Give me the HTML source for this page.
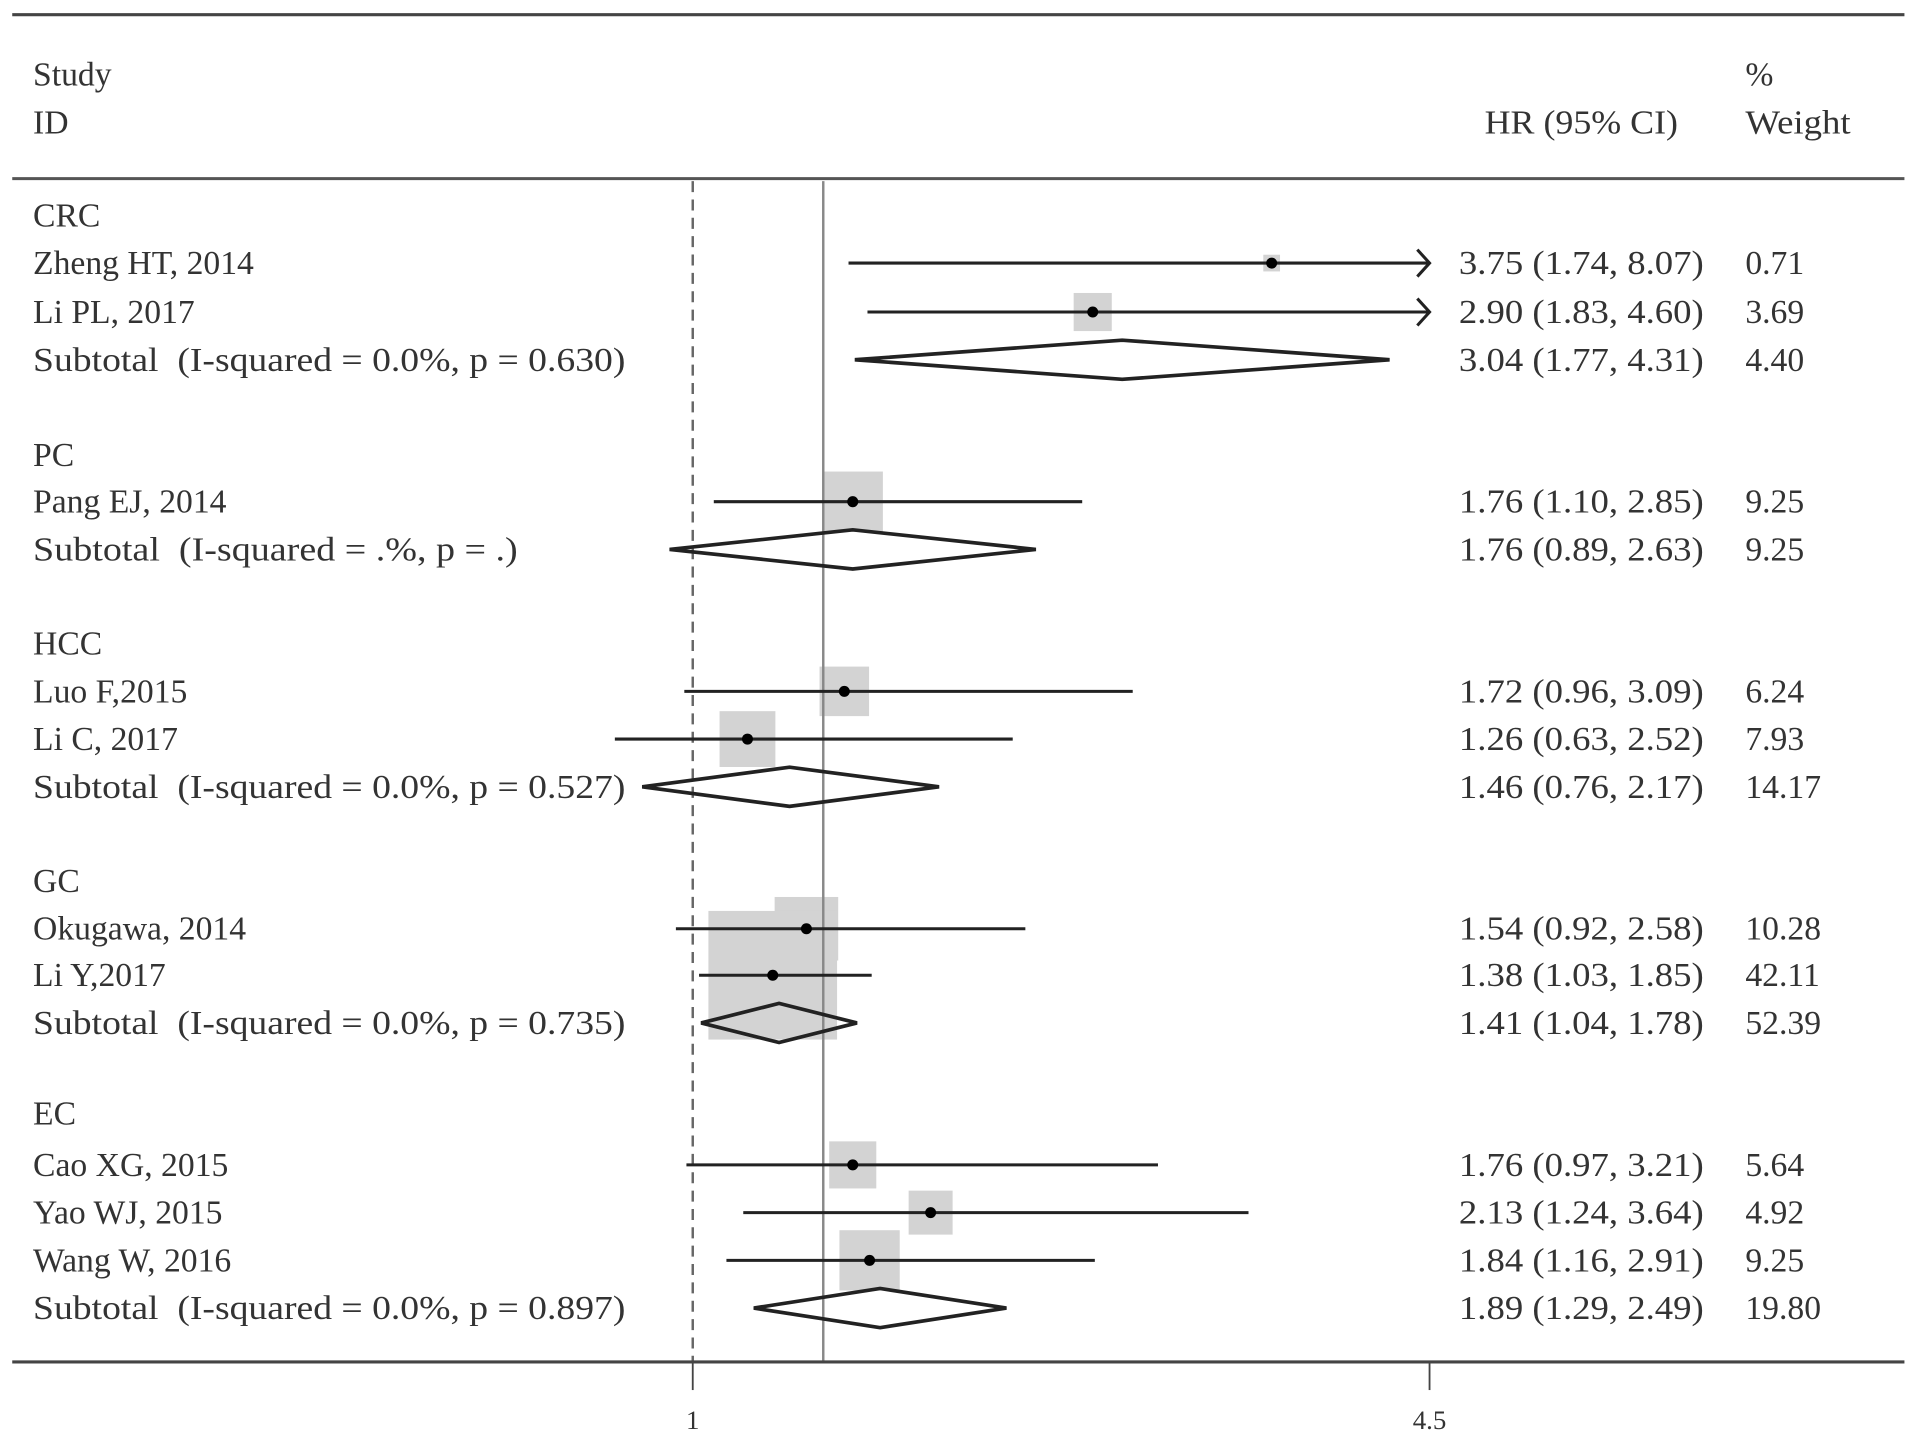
<!DOCTYPE html>
<html><head><meta charset="utf-8"><style>
html,body{margin:0;padding:0;background:#fff;}
svg{display:block;}
text{font-family:"Liberation Serif",serif;font-size:27.5px;fill:#333;white-space:pre;}
</style></head><body>
<svg width="1913" height="1439" viewBox="0 0 1563 1176" preserveAspectRatio="none" xmlns="http://www.w3.org/2000/svg">
<g id="static">
<line x1="10" y1="12" x2="1556" y2="12" stroke="#444" stroke-width="2.5"/>
<line x1="10" y1="146" x2="1556" y2="146" stroke="#555" stroke-width="2.5"/>
<text x="27" y="70">Study</text>
<text x="27" y="109">ID</text>
<text x="1213" y="109" textLength="158" lengthAdjust="spacingAndGlyphs">HR (95% CI)</text>
<text x="1426" y="70">%</text>
<text x="1426" y="109" textLength="86" lengthAdjust="spacingAndGlyphs">Weight</text>
</g>
<g id="plot"></g>
</svg>
<script>
const labels=["CRC","Zheng HT, 2014","Li PL, 2017","Subtotal  (I-squared = 0.0%, p = 0.630)","PC","Pang EJ, 2014","Subtotal  (I-squared = .%, p = .)","HCC","Luo F,2015","Li C, 2017","Subtotal  (I-squared = 0.0%, p = 0.527)","GC","Okugawa, 2014","Li Y,2017","Subtotal  (I-squared = 0.0%, p = 0.735)","EC","Cao XG, 2015","Yao WJ, 2015","Wang W, 2016","Subtotal  (I-squared = 0.0%, p = 0.897)"];
const rowY=[176,215,255,294,372,410,449,526,565,604,643,720,759,797,836,910,952,991,1030,1069];
const kinds=["g","s","s","d","g","s","d","g","s","s","d","g","s","s","d","g","s","s","s","d"];
const hr=[null,3.75,2.90,3.04,null,1.76,1.76,null,1.72,1.26,1.46,null,1.54,1.38,1.41,null,1.76,2.13,1.84,1.89];
const lo=[null,1.74,1.83,1.77,null,1.10,0.89,null,0.96,0.63,0.76,null,0.92,1.03,1.04,null,0.97,1.24,1.16,1.29];
const hi=[null,8.07,4.60,4.31,null,2.85,2.63,null,3.09,2.52,2.17,null,2.58,1.85,1.78,null,3.21,3.64,2.91,2.49];
const weights=[null,0.71,3.69,4.40,null,9.25,9.25,null,6.24,7.93,14.17,null,10.28,42.11,52.39,null,5.64,4.92,9.25,19.80];
const overall=1.62;
const axisTicks=[1,4.5];
const xMin=1,xMax=4.5;
const X=v=>566+(v-1)*(1168-566)/(xMax-xMin);
const NS="http://www.w3.org/2000/svg";
const g=document.getElementById('plot');
function mk(t,a){const e=document.createElementNS(NS,t);for(const k in a)e.setAttribute(k,a[k]);g.appendChild(e);return e;}
const fmt=v=>v.toFixed(2);
for(let i=0;i<labels.length;i++){if(kinds[i]!=="s")continue;const s=16.2*Math.sqrt(weights[i]);
const b=mk('rect',{x:X(hr[i])-s/2,y:rowY[i]-s/2,width:s,height:s,fill:'#d3d3d3'});

}
let nl=mk('line',{x1:X(1),y1:148,x2:X(1),y2:1113,stroke:'#666','stroke-width':2,'stroke-dasharray':'9,6'});


let ol=mk('line',{x1:X(overall),y1:148,x2:X(overall),y2:1113,stroke:'#888','stroke-width':2});


for(let i=0;i<labels.length;i++){const y=rowY[i];
const ta={x:27,y:y+9};
if(kinds[i]==="d"){ta.textLength=labels[i].length>36?484:396;ta.lengthAdjust='spacingAndGlyphs';}
const t=mk('text',ta);t.textContent=labels[i];


if(kinds[i]==="g")continue;
const h=mk('text',{x:1192,y:y+9,textLength:200,lengthAdjust:'spacingAndGlyphs'});h.textContent=fmt(hr[i])+" ("+fmt(lo[i])+", "+fmt(hi[i])+")";


const w=mk('text',{x:1426,y:y+9});w.textContent=fmt(weights[i]);


if(kinds[i]==="s"){const hiC=Math.min(hi[i],xMax);
const l=mk('line',{x1:X(lo[i]),y1:y,x2:X(hiC),y2:y,stroke:'#222','stroke-width':2.5});


if(hi[i]>xMax){const a=mk('polyline',{points:(X(hiC)-10)+','+(y-11)+' '+X(hiC)+','+y+' '+(X(hiC)-10)+','+(y+11),fill:'none',stroke:'#222','stroke-width':2.5});

}
const p=mk('circle',{cx:X(hr[i]),cy:y,r:4.5,fill:'#000'});

}
else{const d=mk('polygon',{points:X(lo[i])+','+y+' '+X(hr[i])+','+(y-16)+' '+X(hi[i])+','+y+' '+X(hr[i])+','+(y+16),fill:'none',stroke:'#222','stroke-width':3});

}}
let ax=mk('line',{x1:10,y1:1113,x2:1556,y2:1113,stroke:'#444','stroke-width':2.5});


for(const v of axisTicks){const tk=mk('line',{x1:X(v),y1:1113,x2:X(v),y2:1136,stroke:'#444','stroke-width':1.5});


const tl=mk('text',{x:X(v),y:1168,'text-anchor':'middle',style:'font-size:22px'});tl.textContent=String(v);

}
</script>
</body></html>
